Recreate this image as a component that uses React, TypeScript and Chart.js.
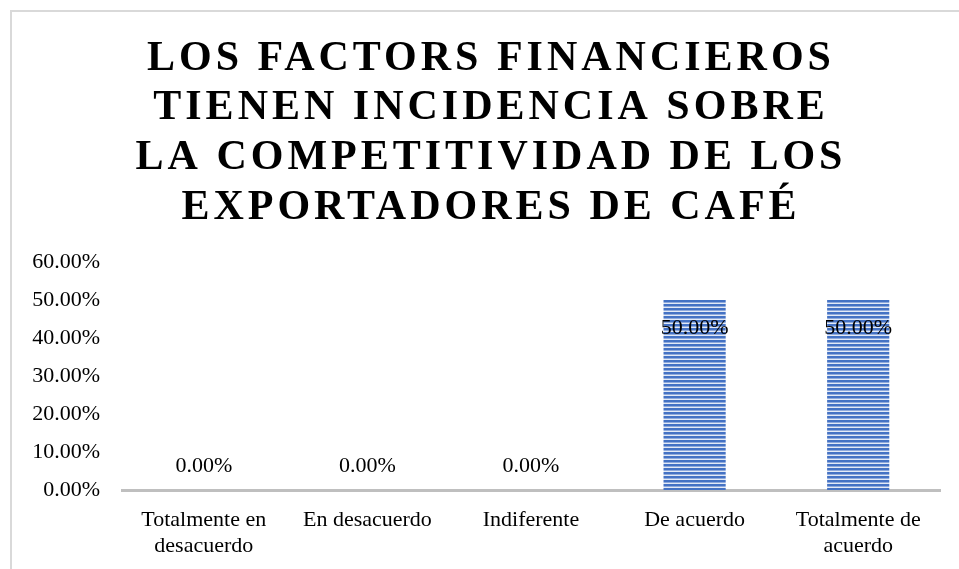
import React, { useEffect, useRef } from "react";
import { Chart, registerables } from "chart.js";

Chart.register(...registerables);

const titleLines = [
  "LOS FACTORS FINANCIEROS",
  "TIENEN INCIDENCIA SOBRE",
  "LA COMPETITIVIDAD DE LOS",
  "EXPORTADORES DE CAFÉ",
];
const categories: (string | string[])[] = [
  ["Totalmente en", "desacuerdo"],
  "En desacuerdo",
  "Indiferente",
  "De acuerdo",
  ["Totalmente de", "acuerdo"],
];
const values = [0, 0, 0, 50, 50];
const yTicks = [0, 10, 20, 30, 40, 50, 60];

const FONT = "'Liberation Serif', 'Times New Roman', serif";

function makePattern(): CanvasPattern | string {
  const c = document.createElement("canvas");
  c.width = 4;
  c.height = 4;
  const g = c.getContext("2d");
  if (!g) return "#4472C4";
  g.fillStyle = "#4472C4";
  g.fillRect(0, 0, 4, 4);
  g.fillStyle = "#8FAADC";
  g.fillRect(0, 2, 4, 1);
  g.fillStyle = "#E3EAF6";
  g.fillRect(0, 3, 4, 1);
  const p = g.createPattern(c, "repeat");
  return p || "#4472C4";
}

const framePlugin = {
  id: "frame",
  beforeDraw(chart: any) {
    const ctx = chart.ctx;
    ctx.save();
    ctx.strokeStyle = "#D9D9D9";
    ctx.lineWidth = 2;
    ctx.strokeRect(11, 11, 2000, 2000);
    ctx.restore();
  },
};

const titlePlugin = {
  id: "customTitle",
  afterDraw(chart: any) {
    const ctx = chart.ctx;
    ctx.save();
    ctx.font = `bold 42px ${FONT}`;
    ctx.fillStyle = "#000";
    ctx.textAlign = "center";
    ctx.textBaseline = "alphabetic";
    const ls = 4;
    (ctx as any).letterSpacing = `${ls}px`;
    titleLines.forEach((line, i) => {
      ctx.fillText(line, 489 + ls / 2, 69.5 + i * 49.7);
    });
    ctx.restore();
  },
};

const labelPlugin = {
  id: "barLabels",
  afterDatasetsDraw(chart: any) {
    const ctx = chart.ctx;
    const meta = chart.getDatasetMeta(0);
    ctx.save();
    ctx.font = `22px ${FONT}`;
    ctx.fillStyle = "#000";
    ctx.textAlign = "center";
    ctx.textBaseline = "middle";
    meta.data.forEach((bar: any, i: number) => {
      const v = values[i];
      const txt = v.toFixed(2) + "%";
      const y = v > 0 ? bar.y + 28 : bar.base - 24;
      ctx.fillText(txt, bar.x, y);
    });
    ctx.restore();
  },
};

export default function App() {
  const ref = useRef<HTMLCanvasElement>(null);
  useEffect(() => {
    document.body.style.margin = "0";
    if (!ref.current) return;
    const chart = new Chart(ref.current, {
      type: "bar",
      data: {
        labels: categories,
        datasets: [
          {
            data: values,
            backgroundColor: makePattern() as any,
            borderWidth: 0,
            categoryPercentage: 1,
            barPercentage: 0.38,
          },
        ],
      },
      options: {
        animation: false,
        responsive: false,
        maintainAspectRatio: false,
        layout: { padding: { top: 262, left: 0, right: 19, bottom: 0 } },
        plugins: {
          legend: { display: false },
          title: { display: false },
          tooltip: { enabled: false },
        },
        scales: {
          x: {
            grid: { display: false, drawTicks: false },
            border: { display: true, color: "#BFBFBF", width: 3 },
            ticks: {
              font: { family: FONT, size: 22 },
              color: "#000",
              padding: 17,
              maxRotation: 0,
              autoSkip: false,
            },
            afterFit: (s: any) => {
              s.height = 79;
            },
          },
          y: {
            min: 0,
            max: 60,
            grid: { display: false, drawTicks: false },
            border: { display: false },
            afterBuildTicks: (s: any) => {
              s.ticks = yTicks.map((v) => ({ value: v }));
            },
            ticks: {
              font: { family: FONT, size: 22 },
              color: "#000",
              padding: 22,
              callback: (v: any) => Number(v).toFixed(2) + "%",
            },
            afterFit: (s: any) => {
              s.width = 122;
            },
          },
        },
      },
      plugins: [framePlugin, titlePlugin, labelPlugin],
    });
    return () => chart.destroy();
  }, []);
  return (
    <div style={{ width: 959, height: 569 }}>
      <canvas ref={ref} width={959} height={569} style={{ display: "block" }} />
    </div>
  );
}
